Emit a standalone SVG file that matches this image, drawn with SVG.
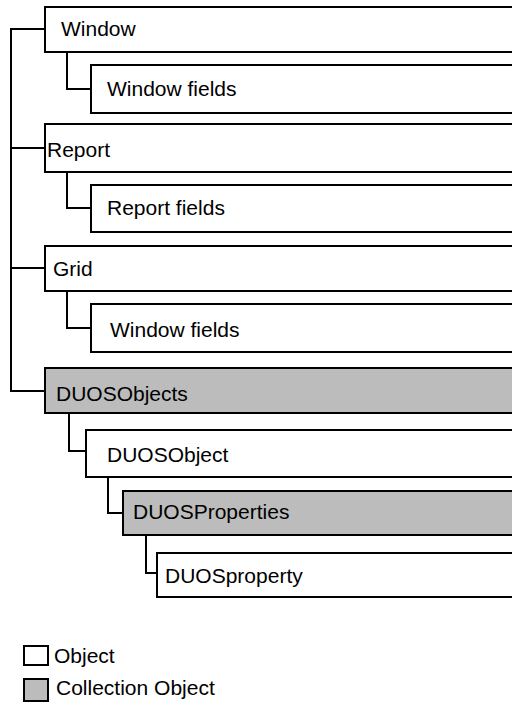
<svg xmlns="http://www.w3.org/2000/svg" width="512" height="704" viewBox="0 0 512 704">
  <style>
    .box { fill: #ffffff; stroke: #000000; stroke-width: 2; }
    .coll { fill: #bcbcbc; stroke: #000000; stroke-width: 2; }
    .lbl { font-family: "Liberation Sans", Arial, Helvetica, sans-serif; font-size: 21px; fill: #000000; }
    .wire { fill: none; stroke: #000000; stroke-width: 2; }
  </style>
  <rect width="512" height="704" fill="#ffffff"/>

  <!-- tree connectors -->
  <g id="connectors">
    <path class="wire" d="M45,29 H11 V391 H45"/>
    <path class="wire" d="M11,148 H45"/>
    <path class="wire" d="M11,268 H45"/>
    <path class="wire" d="M67,52 V89 H91"/>
    <path class="wire" d="M67,172 V208 H91"/>
    <path class="wire" d="M67,291 V328 H91"/>
    <path class="wire" d="M69,413 V451 H86"/>
    <path class="wire" d="M108,477 V513 H123"/>
    <path class="wire" d="M146,535 V573 H157"/>
  </g>

  <!-- nodes -->
  <g id="window">
    <rect class="box" x="45" y="7" width="480" height="45"/>
    <text class="lbl" x="61" y="36">Window</text>
  </g>
  <g id="window-fields">
    <rect class="box" x="91" y="65" width="440" height="48"/>
    <text class="lbl" x="107" y="96">Window fields</text>
  </g>
  <g id="report">
    <rect class="box" x="45" y="124" width="480" height="48"/>
    <text class="lbl" x="47" y="157">Report</text>
  </g>
  <g id="report-fields">
    <rect class="box" x="91" y="185" width="440" height="47"/>
    <text class="lbl" x="107" y="215">Report fields</text>
  </g>
  <g id="grid">
    <rect class="box" x="45" y="246" width="480" height="45"/>
    <text class="lbl" x="53" y="276">Grid</text>
  </g>
  <g id="grid-window-fields">
    <rect class="box" x="91" y="304" width="440" height="48"/>
    <text class="lbl" x="110" y="337">Window fields</text>
  </g>
  <g id="duosobjects">
    <rect class="coll" x="45" y="368" width="480" height="45"/>
    <text class="lbl" x="56" y="401">DUOSObjects</text>
  </g>
  <g id="duosobject">
    <rect class="box" x="86" y="430" width="440" height="47"/>
    <text class="lbl" x="107" y="462">DUOSObject</text>
  </g>
  <g id="duosproperties">
    <rect class="coll" x="123" y="491" width="400" height="44"/>
    <text class="lbl" x="133" y="519">DUOSProperties</text>
  </g>
  <g id="duosproperty">
    <rect class="box" x="157" y="553" width="370" height="44"/>
    <text class="lbl" x="165" y="583">DUOSproperty</text>
  </g>

  <!-- legend -->
  <g id="legend">
    <rect class="box" x="24" y="646" width="24" height="19"/>
    <text class="lbl" x="54" y="663">Object</text>
    <rect class="coll" x="24" y="679" width="24" height="22"/>
    <text class="lbl" x="56" y="695">Collection Object</text>
  </g>
</svg>
